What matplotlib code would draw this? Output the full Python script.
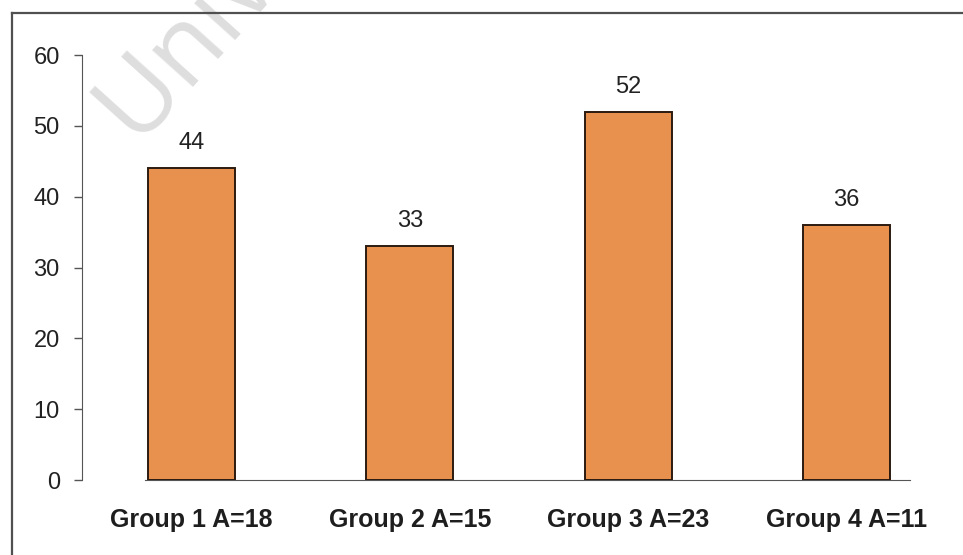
import matplotlib.pyplot as plt
from matplotlib.lines import Line2D

# values per group
groups = ['Group 1 A=18', 'Group 2 A=15', 'Group 3 A=23', 'Group 4 A=11']
scores = [44, 33, 52, 36]
y_ticks = [0, 10, 20, 30, 40, 50, 60]

plt.rcParams['font.family'] = ['Liberation Sans', 'DejaVu Sans']

fig = plt.figure(figsize=(9.63, 5.55), dpi=100)
ax = fig.add_axes([0.0852, 0.1351, 0.9075, 0.7658])

x = range(len(groups))
bars = ax.bar(x, scores, width=0.4, color='#E8914F', edgecolor='#2b1a10',
              linewidth=1.4, zorder=3)

for rect, v in zip(bars, scores):
    ax.annotate(f'{v}', (rect.get_x() + rect.get_width() / 2, v),
                xytext=(0, 10), textcoords='offset points',
                ha='center', va='bottom', fontsize=17, color='#222222')

ax.set_xlim(-0.5, 3.5)
ax.set_ylim(0, 60)
ax.set_yticks(y_ticks)
ax.set_xticks(list(x))
ax.set_xticklabels(groups, fontsize=18, fontweight='bold', color='#1e1e1e')
ax.tick_params(axis='x', length=0, pad=20)
ax.tick_params(axis='y', length=6, width=1, color='#555555', pad=10,
               labelsize=17, labelcolor='#222222')

for side in ['top', 'right']:
    ax.spines[side].set_visible(False)
ax.spines['left'].set_color('#555555')
ax.spines['bottom'].set_color('#555555')
ax.spines['bottom'].set_bounds(-0.21, 3.29)

# outer frame (top and left edges only)
fig.add_artist(Line2D([0.0125, 1.0], [0.9766, 0.9766], color='#505050', lw=1.6,
                      zorder=5))
fig.add_artist(Line2D([0.0125, 0.0125], [0.0, 0.9766], color='#505050', lw=1.6,
                      zorder=5))

# faint diagonal watermark
fig.text(0.14, 0.745, 'University', fontsize=74, color='#dedede',
         rotation=48, rotation_mode='anchor', ha='left', va='baseline',
         family=['Open Sans', 'DejaVu Sans'], zorder=0)

fig.savefig('out.png', dpi=100)
